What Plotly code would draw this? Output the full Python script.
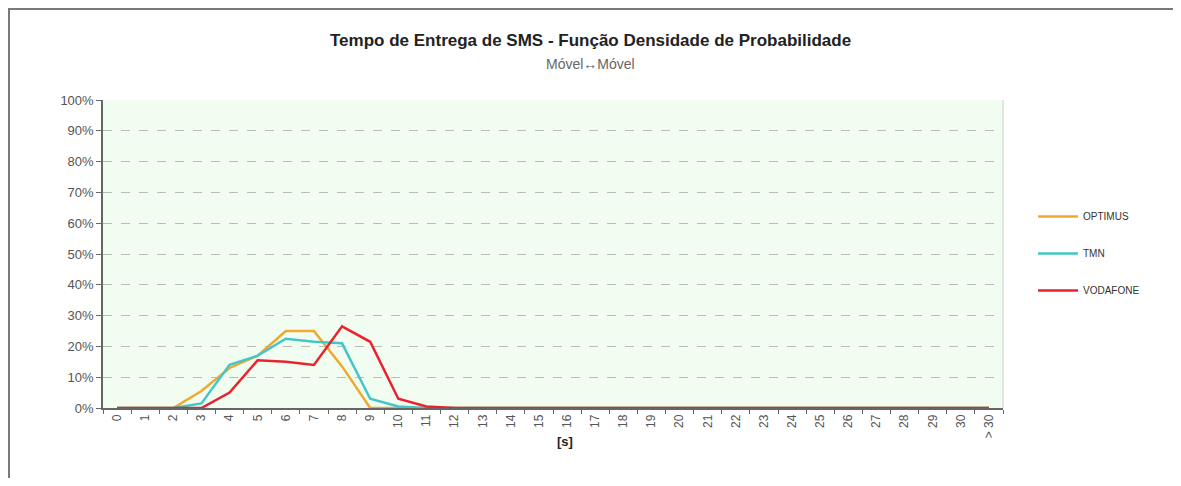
import plotly.graph_objects as go

categories = [str(i) for i in range(31)] + ["> 30"]

optimus = [0, 0, 0, 5.5, 13, 17, 25, 25, 13.5, 0, 0] + [0] * 21
tmn = [0, 0, 0, 1.5, 14, 17, 22.5, 21.5, 21, 3, 0.5] + [0] * 21
vodafone = [0, 0, 0, 0, 5, 15.5, 15, 14, 26.5, 21.5, 3, 0.5] + [0] * 20

series = [
    ("OPTIMUS", optimus, "#F0A830"),
    ("TMN", tmn, "#45C6C6"),
    ("VODAFONE", vodafone, "#E8232D"),
]

fig = go.Figure()
for name, vals, color in series:
    fig.add_trace(go.Scatter(x=categories, y=vals, name=name, mode="lines",
                             legendgroup=name,
                             line=dict(color=color, width=2.5)))

font_fam = "Liberation Sans Narrow, Liberation Sans, Arial, sans-serif"

# page body has an 8px margin; plot area target: x 103..1003, y 100..408
W, H = 1165, 470
L, T = 95, 92
R = W + 8 - 1003
B = H + 8 - 408
PW, PH = 900, 308

def px(xp):
    return (xp - 103) / PW

def py(yp):
    return (408 - yp) / PH

fig.update_layout(
    width=W, height=H,
    paper_bgcolor="white",
    plot_bgcolor="#F2FDF2",
    margin=dict(l=L, r=R, t=T, b=B, autoexpand=False),
    font=dict(family=font_fam, size=12, color="#444"),
    showlegend=True,
    legend=dict(x=px(1033), y=py(202), xanchor="left", yanchor="top",
                bgcolor="rgba(0,0,0,0)", font=dict(size=10, color="#333"),
                tracegroupgap=18, itemwidth=40),
    shapes=[
        dict(type="rect", xref="paper", yref="paper",
             x0=px(9), x1=px(1179), y0=py(520), y1=py(9),
             line=dict(color="#7a7a7a", width=2)),
        dict(type="line", xref="paper", yref="paper", x0=1, x1=1, y0=0, y1=1,
             line=dict(color="#CCCCCC", width=1)),
    ],
    annotations=[
        dict(text="<b>Tempo de Entrega de SMS - Função Densidade de Probabilidade</b>",
             xref="paper", yref="paper", x=px(590), y=py(40),
             xanchor="center", yanchor="middle", showarrow=False,
             font=dict(family=font_fam, size=17, color="#222")),
        dict(text="Móvel↔Móvel",
             xref="paper", yref="paper", x=px(590), y=py(64),
             xanchor="center", yanchor="middle", showarrow=False,
             font=dict(family=font_fam, size=14, color="#666")),
        dict(text="<b>[s]</b>",
             xref="paper", yref="paper", x=px(565), y=py(441),
             xanchor="center", yanchor="middle", showarrow=False,
             font=dict(family=font_fam, size=13, color="#222")),
    ],
)

fig.update_xaxes(
    type="category", range=[-0.5, 31.5],
    tickangle=-90, ticks="outside", tickson="boundaries", ticklen=4,
    tickcolor="#666", showline=True, linecolor="#666", linewidth=1.5,
    showgrid=False,
    tickfont=dict(size=12, color="#555"),
)
fig.update_yaxes(
    range=[0, 100], dtick=10, ticksuffix="%", ticks="outside", ticklen=5,
    tickcolor="#666", showline=True, linecolor="#666", linewidth=1.5,
    showgrid=True, gridcolor="#BBBBBB", griddash="dash", gridwidth=1,
    zeroline=False, tickfont=dict(size=13, color="#555"),
)

fig.write_html("out.html")
